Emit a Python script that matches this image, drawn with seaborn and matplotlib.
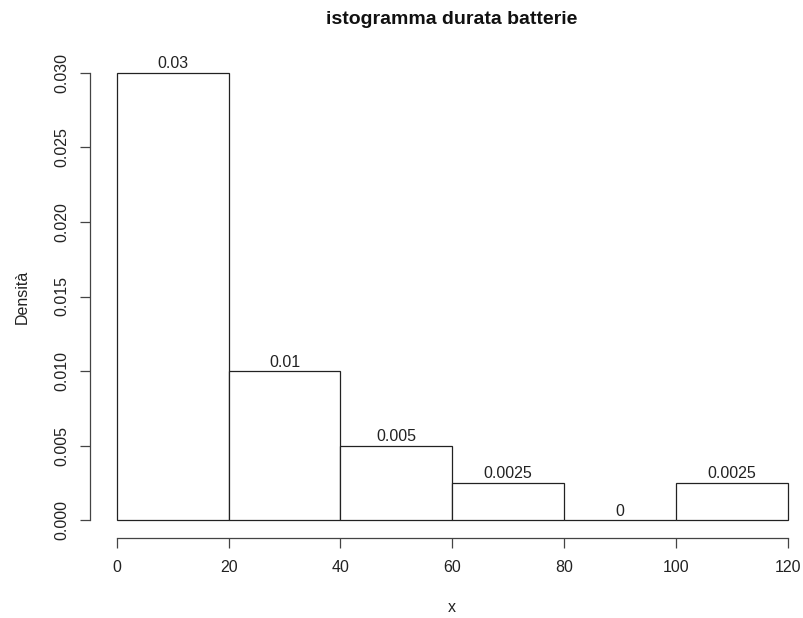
import numpy as np
import seaborn as sns
import matplotlib.pyplot as plt

# dati dell'istogramma (densita per classe)
bordi = [0, 20, 40, 60, 80, 100, 120]
centri = [10, 30, 50, 70, 90, 110]
densita = [0.03, 0.01, 0.005, 0.0025, 0.0, 0.0025]
y_ticks = [0.000, 0.005, 0.010, 0.015, 0.020, 0.025, 0.030]
x_ticks = [0, 20, 40, 60, 80, 100, 120]

sns.set_style("ticks")
plt.rcParams['font.family'] = ['Liberation Sans', 'DejaVu Sans']

fig = plt.figure(figsize=(8.04, 6.18), dpi=100)
W, H = 804, 618
# area del grafico in pixel (stile R)
left, right, top, bottom = 90, 804, 55, 538
ax = fig.add_axes([left / W, 1 - bottom / H, (right - left) / W, (bottom - top) / H])

sns.histplot(x=centri, weights=densita, bins=bordi, stat="count",
             color="white", edgecolor="#222222", linewidth=0.9, alpha=1, ax=ax)

ax.set_xlim(-4.8, 122.9)
ax.set_ylim(-0.0012, 0.0312)

fs = 11.5
for c in ax.containers:
    ax.bar_label(c, labels=["%g" % d for d in densita], padding=1, fontsize=fs, color="#222222")

ax.set_xticks(x_ticks)
ax.set_yticks(y_ticks)
ax.set_yticklabels(["%.3f" % v for v in y_ticks], rotation=90, va="center")
ax.tick_params(axis="both", direction="out", length=7, width=0.9, colors="#444444",
               labelcolor="#222222", labelsize=fs, pad=8, bottom=True, left=True)
ax.tick_params(axis="x", pad=9)

for s in ["top", "right"]:
    ax.spines[s].set_visible(False)
ax.spines["left"].set_bounds(0, 0.03)
ax.spines["bottom"].set_bounds(0, 120)
for s in ["left", "bottom"]:
    ax.spines[s].set_color("#444444")
    ax.spines[s].set_linewidth(0.9)

ax.set_xlabel("")
ax.set_ylabel("")
fig.text(452 / W, 1 - 607 / H, "x", ha="center", va="center", fontsize=fs, color="#222222")
fig.text(22 / W, 1 - 297 / H, "Densità", ha="center", va="center", rotation=90,
         fontsize=fs, color="#222222")
fig.text(452 / W, 1 - 19 / H, "istogramma durata batterie", ha="center", va="center",
         fontsize=14, fontweight="bold", color="#111111")

fig.savefig("out.png", dpi=100)
